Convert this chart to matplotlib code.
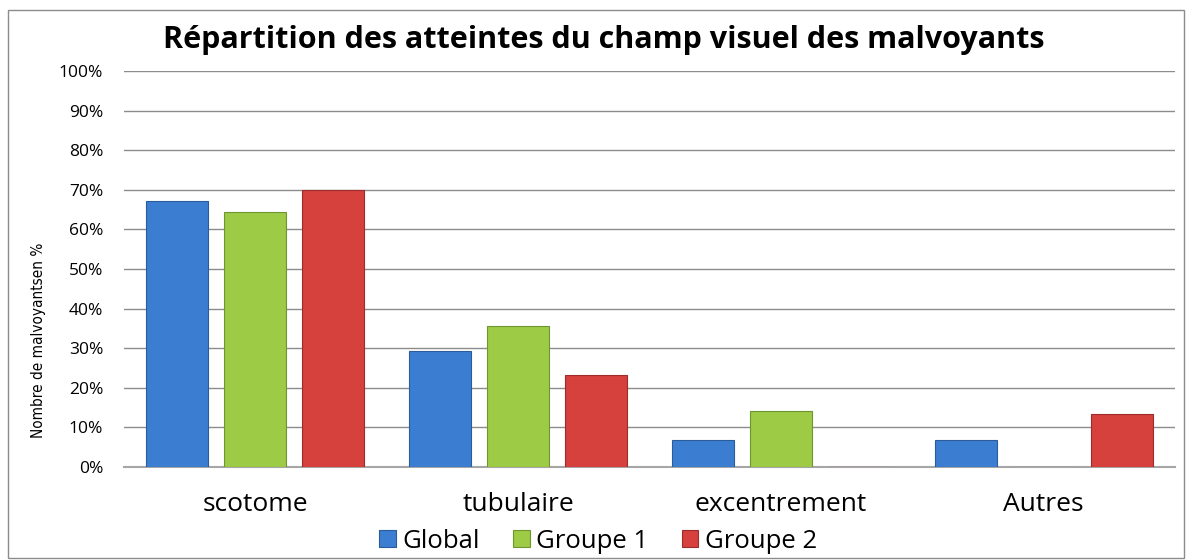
import numpy as np
import matplotlib
matplotlib.use("Agg")
import matplotlib.pyplot as plt
from matplotlib.patches import Rectangle
from matplotlib.ticker import PercentFormatter

plt.rcParams['font.family'] = ['Open Sans', 'DejaVu Sans']

# Data
categories = ["scotome", "tubulaire", "excentrement", "Autres"]
series_names = ["Global", "Groupe 1", "Groupe 2"]
global_vals = [67.1, 29.2, 6.7, 6.7]
groupe1_vals = [64.3, 35.6, 14.1, 0.0]
groupe2_vals = [70.0, 23.2, 0.0, 13.3]

colors = ['#3b7dd0', '#9dcb45', '#d6403d']
edges = ['#2a5c9c', '#6f9430', '#9c2d2b']

fig = plt.figure(figsize=(11.86, 5.6), dpi=100)
ax = fig.add_axes([124/1186, 1-467/560, (1175-124)/1186, (467-71)/560])

x = np.arange(len(categories))
w = 0.236
step = 0.297
for i, vals in enumerate([global_vals, groupe1_vals, groupe2_vals]):
    v = np.array(vals) / 100
    ax.bar(x + (i-1)*step, v, width=w, color=colors[i], edgecolor=edges[i],
           linewidth=0.8, label=series_names[i], zorder=3)

ax.set_xlim(-0.5, len(categories)-0.5)
ax.set_ylim(0, 1)
ax.set_yticks(np.arange(0, 1.01, 0.1))
ax.yaxis.set_major_formatter(PercentFormatter(1.0, decimals=0))
ax.grid(axis='y', color='#8c8c8c', linewidth=1)
ax.set_axisbelow(True)
for s in ['top', 'right', 'left']:
    ax.spines[s].set_visible(False)
ax.spines['bottom'].set_color('#a6a6a6')
ax.spines['bottom'].set_linewidth(1.5)
ax.tick_params(axis='y', length=0, pad=15, labelsize=12.5)
ax.tick_params(axis='x', length=0, pad=18, labelsize=19)
ax.set_xticks(x)
ax.set_xticklabels(categories)

ax.set_ylabel("Nombre de malvoyantsen %", fontsize=11, fontstretch='condensed',
              family=['Liberation Sans Narrow', 'DejaVu Sans'])
ax.yaxis.set_label_coords(-0.074, 0.32)

fig.text(604/1186, 1-40/560, "Répartition des atteintes du champ visuel des malvoyants",
         ha='center', va='center', fontsize=22, fontweight='bold')

fig.legend(loc='center', bbox_to_anchor=(598/1186, 1-541/560), ncol=3, frameon=False,
           fontsize=18.5, handlelength=0.65, handleheight=0.65, handletextpad=0.25,
           columnspacing=1.3)

fig.patches.append(Rectangle((8/1186, 2/560), 1176/1186, 548/560, transform=fig.transFigure,
                             fill=False, edgecolor='#8c8c8c', linewidth=1))

fig.savefig("out.png", dpi=100)
